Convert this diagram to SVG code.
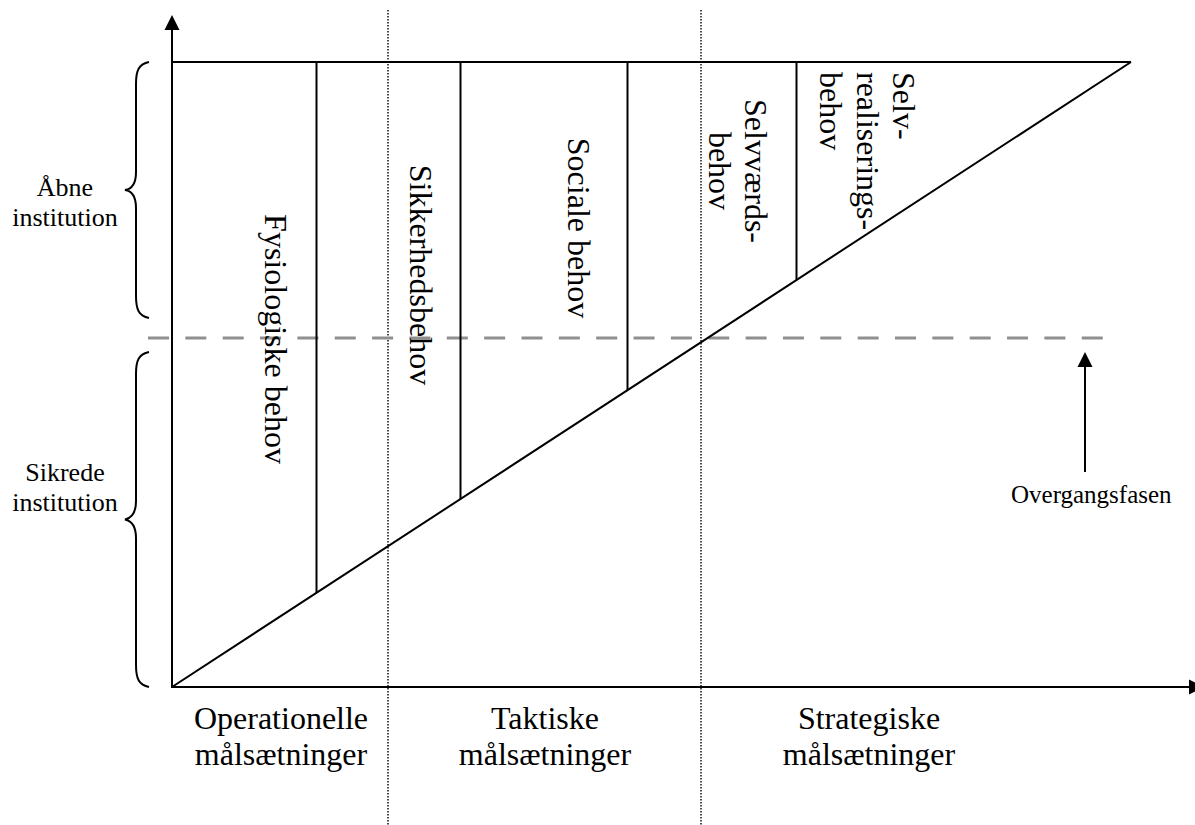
<svg xmlns="http://www.w3.org/2000/svg" width="1195" height="825" viewBox="0 0 1195 825">
  <style>
    .ln { stroke: #000; stroke-width: 2; fill: none; }
    .dot { stroke: #000; stroke-width: 1.4; stroke-dasharray: 1.4 1.6; fill: none; }
    .dash { stroke: #8f8f8f; stroke-width: 3; stroke-dasharray: 21 16.35; fill: none; }
    .brace { stroke: #000; stroke-width: 2; fill: none; }
    .big { font-family: "Liberation Serif", "Times New Roman", serif; font-size: 32px; fill: #000; }
    .small { font-family: "Liberation Serif", "Times New Roman", serif; font-size: 26px; fill: #000; }
    .mid { text-anchor: middle; }
  </style>

  <rect width="1195" height="825" fill="#fff"/>

  <!-- section dividers (dotted) -->
  <g id="dividers">
    <line class="dot" x1="388" y1="10" x2="388" y2="825"/>
    <line class="dot" x1="701" y1="10" x2="701" y2="825"/>
  </g>

  <!-- transition level (grey dashed) -->
  <g id="transition-line">
    <line class="dash" x1="148" y1="338" x2="1104" y2="338"/>
  </g>

  <!-- axes and triangle -->
  <g id="connectors">
    <line class="ln" x1="172" y1="28" x2="172" y2="688"/>
    <polygon points="164.5,30 172,15 179.5,30" fill="#000"/>
    <line class="ln" x1="171" y1="687" x2="1192" y2="687"/>
    <polygon points="1189,679.5 1204,687 1189,694.5" fill="#000"/>
    <line class="ln" x1="171" y1="62" x2="1131" y2="62"/>
    <line class="ln" x1="172" y1="687" x2="1131" y2="62"/>
    <line class="ln" x1="316.5" y1="62" x2="316.5" y2="593"/>
    <line class="ln" x1="460.5" y1="62" x2="460.5" y2="499"/>
    <line class="ln" x1="627.5" y1="62" x2="627.5" y2="390"/>
    <line class="ln" x1="796.5" y1="62" x2="796.5" y2="280"/>
    <line class="ln" x1="1085" y1="472" x2="1085" y2="364"/>
    <polygon points="1077.5,367 1085,352 1092.5,367" fill="#000"/>
  </g>

  <!-- braces -->
  <g id="brace-open">
    <path class="brace" d="M149,62 C139,64 136,70 136,84 L136,172 C136,184 132,189 125,190 C132,191 136,196 136,208 L136,296 C136,310 139,316 149,318"/>
  </g>
  <g id="brace-secure">
    <path class="brace" d="M149,352 C139,354 136,360 136,374 L136,501 C136,513 132,518 125,519.5 C132,521 136,526 136,538 L136,665 C136,679 139,685 149,687"/>
  </g>

  <!-- left labels -->
  <g id="label-open">
    <text class="small mid" x="65" y="196">Åbne</text>
    <text class="small mid" x="65" y="226">institution</text>
  </g>
  <g id="label-secure">
    <text class="small mid" x="65" y="481">Sikrede</text>
    <text class="small mid" x="65" y="511">institution</text>
  </g>

  <!-- need levels (rotated labels) -->
  <g id="need-physiological">
    <text class="big mid" transform="translate(265,339) rotate(90)">Fysiologiske behov</text>
  </g>
  <g id="need-safety">
    <text class="big mid" transform="translate(410,275) rotate(90)">Sikkerhedsbehov</text>
  </g>
  <g id="need-social">
    <text class="big mid" transform="translate(568,228) rotate(90)">Sociale behov</text>
  </g>
  <g id="need-esteem">
    <text class="big mid" transform="translate(745,171) rotate(90)">Selvværds-</text>
    <text class="big mid" transform="translate(709,171) rotate(90)">behov</text>
  </g>
  <g id="need-selfactualization">
    <text class="big" transform="translate(893,72) rotate(90)">Selv-</text>
    <text class="big" transform="translate(857,72) rotate(90)">realiserings-</text>
    <text class="big" transform="translate(820,72) rotate(90)">behov</text>
  </g>

  <!-- transition label -->
  <g id="label-transition">
    <text class="small" x="1011" y="503" style="font-size:25px">Overgangsfasen</text>
  </g>

  <!-- goal levels along the x axis -->
  <g id="goal-operational">
    <text class="big mid" x="281" y="729">Operationelle</text>
    <text class="big mid" x="281" y="765">målsætninger</text>
  </g>
  <g id="goal-tactical">
    <text class="big mid" x="545" y="729">Taktiske</text>
    <text class="big mid" x="545" y="765">målsætninger</text>
  </g>
  <g id="goal-strategic">
    <text class="big mid" x="869" y="729">Strategiske</text>
    <text class="big mid" x="869" y="765">målsætninger</text>
  </g>
</svg>
